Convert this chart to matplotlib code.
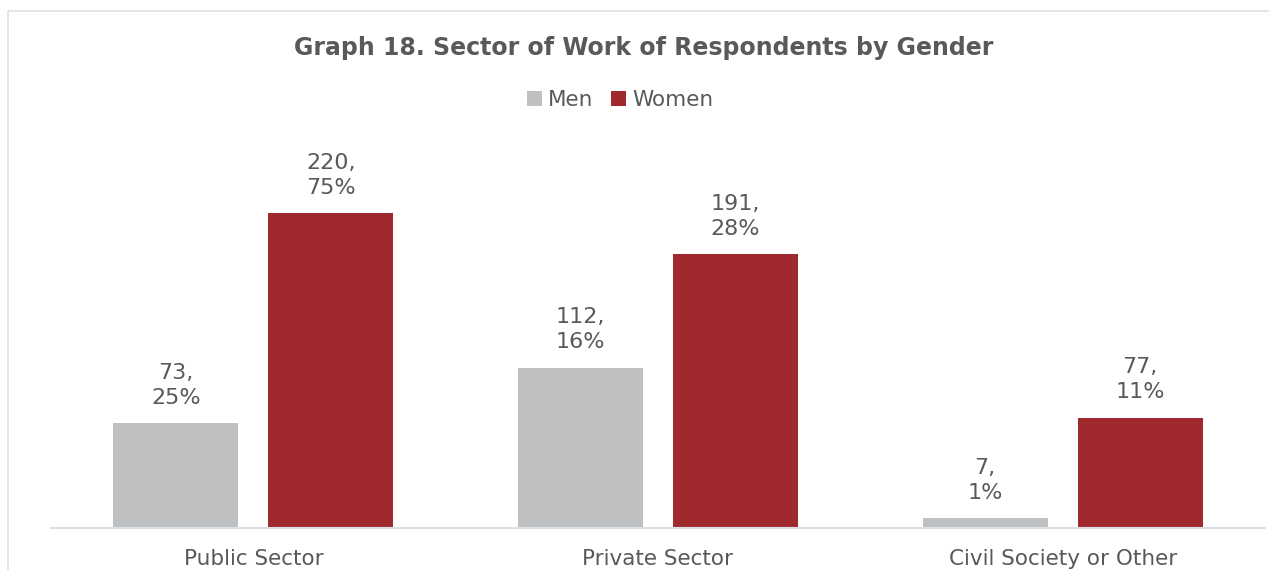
import matplotlib
matplotlib.use("Agg")
import matplotlib.pyplot as plt
from matplotlib.patches import Rectangle
import numpy as np

# Survey data: respondents by sector of work and gender
categories = ["Public Sector", "Private Sector", "Civil Society or Other"]
men_counts = [73, 112, 7]
women_counts = [220, 191, 77]
men_pct = ["25%", "16%", "1%"]
women_pct = ["75%", "28%", "11%"]
series_names = ["Men", "Women"]

GRAY = "#BFC0C2"
RED = "#A0292D"
TEXT = "#595959"
FRAME = "#DCE1E6"

plt.rcParams["font.family"] = ["DejaVu Sans"]

W, H = 1269, 570
fig = plt.figure(figsize=(W / 100, H / 100), dpi=100)

# Outer chart frame
fig.patches.append(Rectangle((8 / W, -0.05), 1.2, (H - 11) / H + 0.05,
                             transform=fig.transFigure, fill=False,
                             edgecolor=FRAME, linewidth=1.2))

ax = fig.add_axes([51 / W, 42 / H, (1265 - 51) / W, 358 / H])
x = np.arange(len(categories))
bw = 0.309
off = 0.1915
b1 = ax.bar(x - off, men_counts, bw, color=GRAY, label=series_names[0])
b2 = ax.bar(x + off, women_counts, bw, color=RED, label=series_names[1])

ax.set_xlim(-0.5, len(categories) - 0.5)
ax.set_ylim(0, 250)

for bars, counts, pcts in ((b1, men_counts, men_pct), (b2, women_counts, women_pct)):
    for rect, c, p in zip(bars, counts, pcts):
        ax.annotate(f"{c},\n{p}", (rect.get_x() + rect.get_width() / 2, rect.get_height()),
                    xytext=(0, 11), textcoords="offset points", ha="center", va="bottom",
                    fontsize=16, color=TEXT, linespacing=1.32)

for s in ("top", "right", "left"):
    ax.spines[s].set_visible(False)
ax.spines["bottom"].set_color(FRAME)
ax.spines["bottom"].set_linewidth(1.5)
ax.set_yticks([])
ax.set_xticks(x)
ax.set_xticklabels(categories, fontsize=15.5, color=TEXT)
ax.tick_params(axis="x", length=0, pad=15)

fig.text(644 / W, 1 - 48 / H, "Graph 18. Sector of Work of Respondents by Gender",
         ha="center", va="center", fontsize=17, fontweight="bold", color=TEXT)

fig.legend(handles=[b1, b2], labels=series_names, loc="center",
           bbox_to_anchor=(620 / W, 1 - 100 / H), ncol=2, frameon=False,
           fontsize=15.5, labelcolor=TEXT, handlelength=0.7, handleheight=0.7,
           handletextpad=0.3, columnspacing=0.8, borderaxespad=0)

fig.savefig("out.png", dpi=100, facecolor="white")
